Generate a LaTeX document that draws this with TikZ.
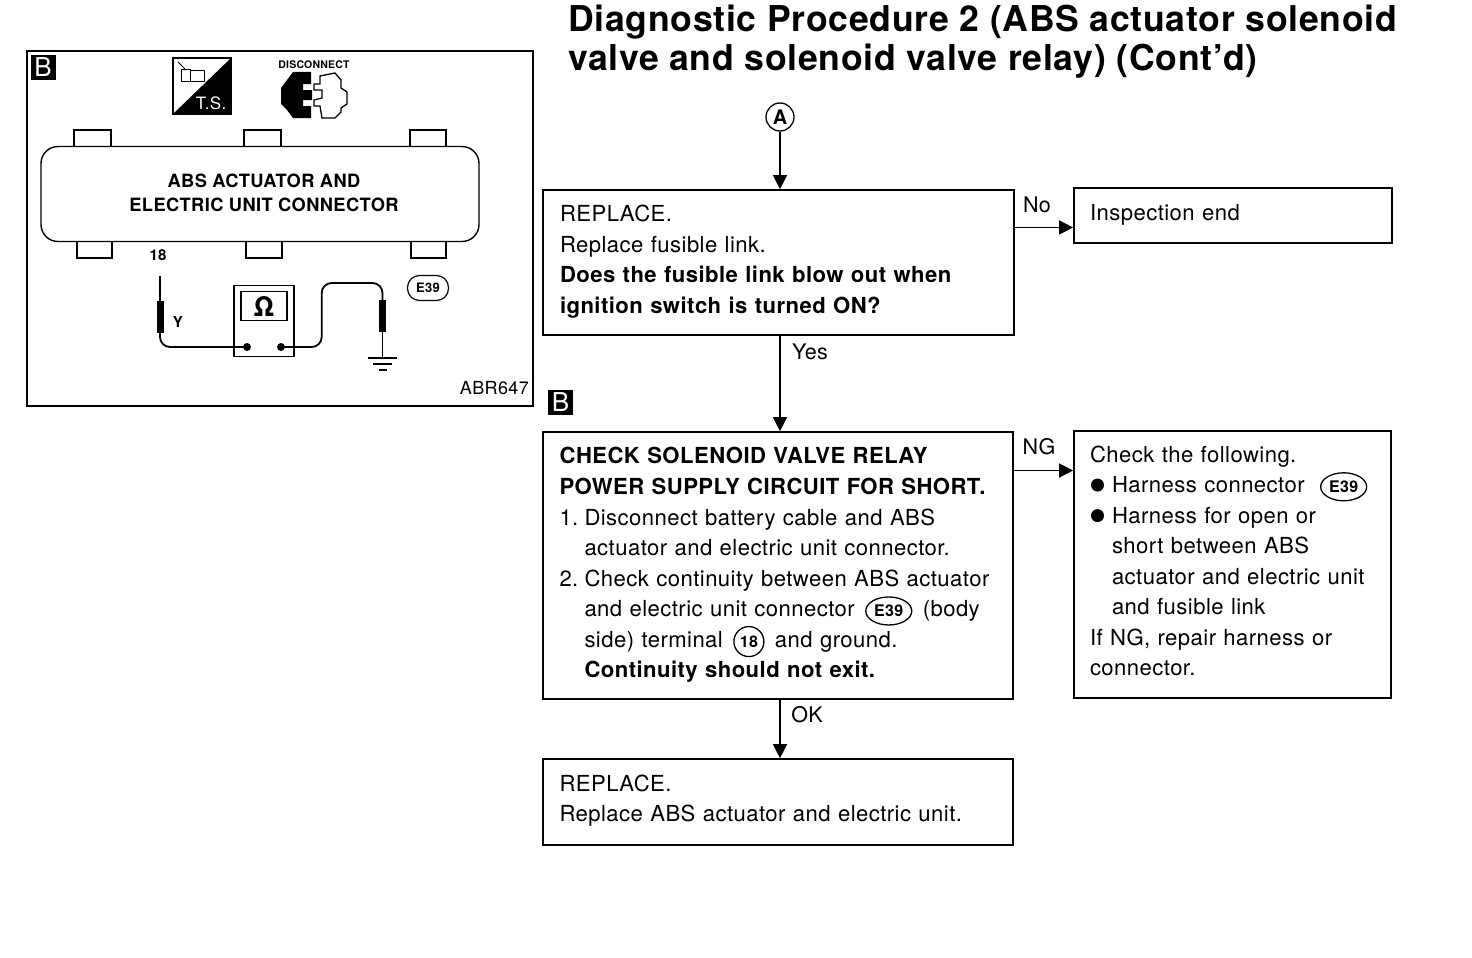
\documentclass[tikz,border=0pt]{standalone}
\usepackage{fontspec}
\setmainfont[LetterSpace=2]{TeX Gyre Heros}
\usetikzlibrary{arrows.meta,shapes.geometric}

\tikzset{
  flowbox/.style={draw,line width=1.7pt,inner xsep=0pt,inner ysep=0pt,align=left,font=\fontsize{22.1}{30.55}\selectfont},
  flowlift/.style={execute at end node={\par\vspace{#1}}},
  flowlabel/.style={font=\fontsize{21.5}{26}\selectfont},
  flowarrow/.style={line width=1.4pt,-{Triangle[length=14pt,width=14pt]}},
  blackmark/.style={fill=black,text=white,minimum size=25pt,inner sep=0pt,font=\fontsize{26}{26}\selectfont},
  tabbox/.style={draw,line width=1.3pt,fill=white},
  wire/.style={line width=1.8pt,rounded corners=10pt},
  probe/.style={fill=black,minimum width=7pt,minimum height=32pt,inner sep=0pt}
}

\newcommand{\plugmark}[1]{\smash{\tikz[baseline=(plug.base)]\node[draw,ellipse,line width=1.3pt,inner xsep=0pt,inner ysep=0pt,minimum width=46pt,minimum height=28pt,font=\bfseries\fontsize{16}{16}\selectfont] (plug) {#1};}}
\newcommand{\termmark}[1]{\smash{\tikz[baseline=(term.base)]\node[draw,circle,line width=1.3pt,inner sep=0pt,minimum size=30pt,font=\bfseries\fontsize{16}{16}\selectfont] (term) {#1};}}
\newcommand{\dotmark}{\makebox[22pt][l]{\hspace{1pt}\smash{\tikz[baseline=-7.5pt]\fill[black] (0,0) circle (6.5pt);}}}

\begin{document}
\begin{tikzpicture}[x=1pt,y=-1pt]

\useasboundingbox (0,0) rectangle (1472,958);

%Title
\node[anchor=north west,align=left,inner sep=0pt,font=\bfseries\fontsize{35.6}{39.5}\selectfont] at (568,4.5)(title){Diagnostic Procedure 2 (ABS actuator solenoid\\valve and solenoid valve relay) (Cont’d)}  ;

%Frame of the test picture
\draw[line width=1.5pt] (27,51) rectangle (533,406);
\node[blackmark] at (43,67.5)(markleft){B}  ;
\node[blackmark] at (560.5,402)(markright){B}  ;

%T.S. icon
\draw[line width=1.3pt] (173,58) rectangle (231,114);
\fill[black] (231,58) -- (231,114) -- (173,114) -- cycle;
\node[text=white,font=\fontsize{17}{17}\selectfont] at (211,103)(tsmark){T.S.}  ;
\draw[line width=0.8pt] (178,62) -- (186,70);
\draw[line width=0.8pt] (181,69) rectangle (190,81);
\draw[line width=0.8pt] (190,70) rectangle (204,81);

%Disconnect icon
\node[font=\bfseries\fontsize{10.5}{10.5}\selectfont] at (314,65)(disconnect){DISCONNECT}  ;
\fill[black] (311,72) -- (293,72) -- (287,80) -- (281,88) -- (281,104) -- (287,110) -- (293,118) -- (311,118) -- (311,106) -- (303,106) -- (303,100) -- (312,100) -- (312,90) -- (303,90) -- (303,84) -- (311,84) -- cycle;
\draw[line width=1.3pt] (320,84) -- (320,76) -- (335,73) -- (341,80) -- (341,88) -- (347,92) -- (347,104) -- (341,108) -- (341,112) -- (335,118) -- (322,118) -- (320,106) -- (314,106) -- (314,100) -- (322,98) -- (322,90) -- (314,90) -- (314,84) -- cycle;

%Connector tabs
\draw[tabbox] (74,130) rectangle (111,150);
\draw[tabbox] (244,130) rectangle (281,150);
\draw[tabbox] (410,130) rectangle (446,150);
\draw[tabbox] (77,238) rectangle (112,258);
\draw[tabbox] (246,238) rectangle (282,258);
\draw[tabbox] (411,238) rectangle (446,258);

%Connector body
\node[draw,line width=1.4pt,fill=white,rounded corners=17pt,minimum width=438pt,minimum height=95pt,inner sep=0pt] at (260,194)(connbody){}  ;
\node[align=center,font=\bfseries\fontsize{18.3}{24}\selectfont,inner sep=0pt] at (264,193)(conntext){ABS ACTUATOR AND\\ELECTRIC UNIT CONNECTOR}  ;

%Terminal and meter
\node[font=\bfseries\fontsize{15}{15}\selectfont] at (158,255)(termno){18}  ;
\node[font=\bfseries\fontsize{15}{15}\selectfont] at (178,322)(wirecolor){Y}  ;
\node[draw,line width=1.5pt,minimum width=60pt,minimum height=71pt,inner sep=0pt] at (264,321)(meter){}  ;
\node[draw,line width=1.3pt,minimum width=46pt,minimum height=29pt,inner sep=0pt,font=\bfseries\fontsize{27}{27}\selectfont] at (264,306)(screen){Ω}  ;
\node[circle,fill=black,minimum size=8pt,inner sep=0pt] at (247,347)(dotleft){}  ;
\node[circle,fill=black,minimum size=8pt,inner sep=0pt] at (281,347)(dotright){}  ;

%Probes
\node[probe] at (160,317)(probeleft){}  ;
\node[probe] at (382.5,316)(proberight){}  ;
\coordinate (tipleft) at (160,276);
\coordinate (tipright) at (382.5,358);
\coordinate (bendright) at (321.7,283);
\draw[line width=1.2pt] (probeleft.north) -- (tipleft);
\draw[line width=1.2pt] (proberight.south) -- (tipright);
\draw[wire] (probeleft.south) |- (dotleft);
\draw[wire] (dotright) -| (bendright) -| (proberight.north);

%Ground
\draw[line width=1.4pt] (368,358) -- (397,358);
\draw[line width=1.4pt] (373,364) -- (392,364);
\draw[line width=1.6pt] (379,370) -- (387,370);

%Connector mark and picture number
\node[draw,line width=1.2pt,rounded corners=12pt,minimum width=41pt,minimum height=25pt,inner sep=0pt,font=\bfseries\fontsize{13}{13}\selectfont] at (428,288)(plugleft){E39}  ;
\node[anchor=east,inner sep=0pt,font=\fontsize{18}{18}\selectfont] at (529,388)(picno){ABR647}  ;

%Start of the flow
\node[draw,circle,line width=1.3pt,minimum size=28pt,inner sep=0pt,font=\bfseries\fontsize{20}{20}\selectfont] at (780,117)(start){A}  ;

%Fusible link
\node[flowbox,flowlift=1.7pt,minimum width=471pt,minimum height=145pt,text width=437pt] at (778.5,262.5)(fuse){REPLACE.\\Replace fusible link.\\\textbf{Does the fusible link blow out when}\\\textbf{ignition switch is turned ON?}}  ;

%Inspection end
\node[flowbox,flowlift=1pt,minimum width=318pt,minimum height=55pt,text width=286pt] at (1233,215.5)(inspect){Inspection end}  ;

%Relay check
\node[flowbox,flowlift=0.7pt,minimum width=470pt,minimum height=267pt,text width=437pt] at (778,565.5)(relay){\textbf{CHECK SOLENOID VALVE RELAY}\\\textbf{POWER SUPPLY CIRCUIT FOR SHORT.}\\\makebox[25pt][l]{1.}Disconnect battery cable and ABS\\\hspace*{25pt}actuator and electric unit connector.\\\makebox[25pt][l]{2.}Check continuity between ABS actuator\\\hspace*{25pt}and electric unit connector\hspace{3pt} \plugmark{E39}\hspace{3pt} (body\\\hspace*{25pt}side) terminal\hspace{3pt} \termmark{18}\hspace{3pt} and ground.\\\hspace*{25pt}\textbf{Continuity should not exit.}}  ;

%Check the following
\node[flowbox,flowlift=7.3pt,minimum width=317pt,minimum height=267pt,text width=285pt] at (1232.5,564.5)(following){Check the following.\\\dotmark Harness connector\hspace{8pt} \plugmark{E39}\\\dotmark Harness for open or\\\hspace*{22pt}short between ABS\\\hspace*{22pt}actuator and electric unit\\\hspace*{22pt}and fusible link\\If NG, repair harness or\\connector.}  ;

%Replace unit
\node[flowbox,flowlift=2.7pt,minimum width=470pt,minimum height=86pt,text width=437pt] at (778,802)(unit){REPLACE.\\Replace ABS actuator and electric unit.}  ;

%Arrows
\draw[flowarrow] (start.south) -- (start.south |- fuse.north);
\draw[flowarrow] (fuse.south -| start) -- (relay.north -| start);
\draw[flowarrow] (relay.south -| start) -- (unit.north -| start);
\draw[flowarrow] ([yshift=35pt]fuse.east) -- ([yshift=35pt]fuse.east -| inspect.west);
\draw[flowarrow] ([yshift=95pt]relay.east) -- ([yshift=95pt]relay.east -| following.west);

%Arrow labels
\node[flowlabel] at (1037,205)(nolabel){No}  ;
\node[flowlabel] at (810,352)(yeslabel){Yes}  ;
\node[flowlabel] at (1039,447)(nglabel){NG}  ;
\node[flowlabel] at (807,715)(oklabel){OK}  ;

\end{tikzpicture}
\end{document}
